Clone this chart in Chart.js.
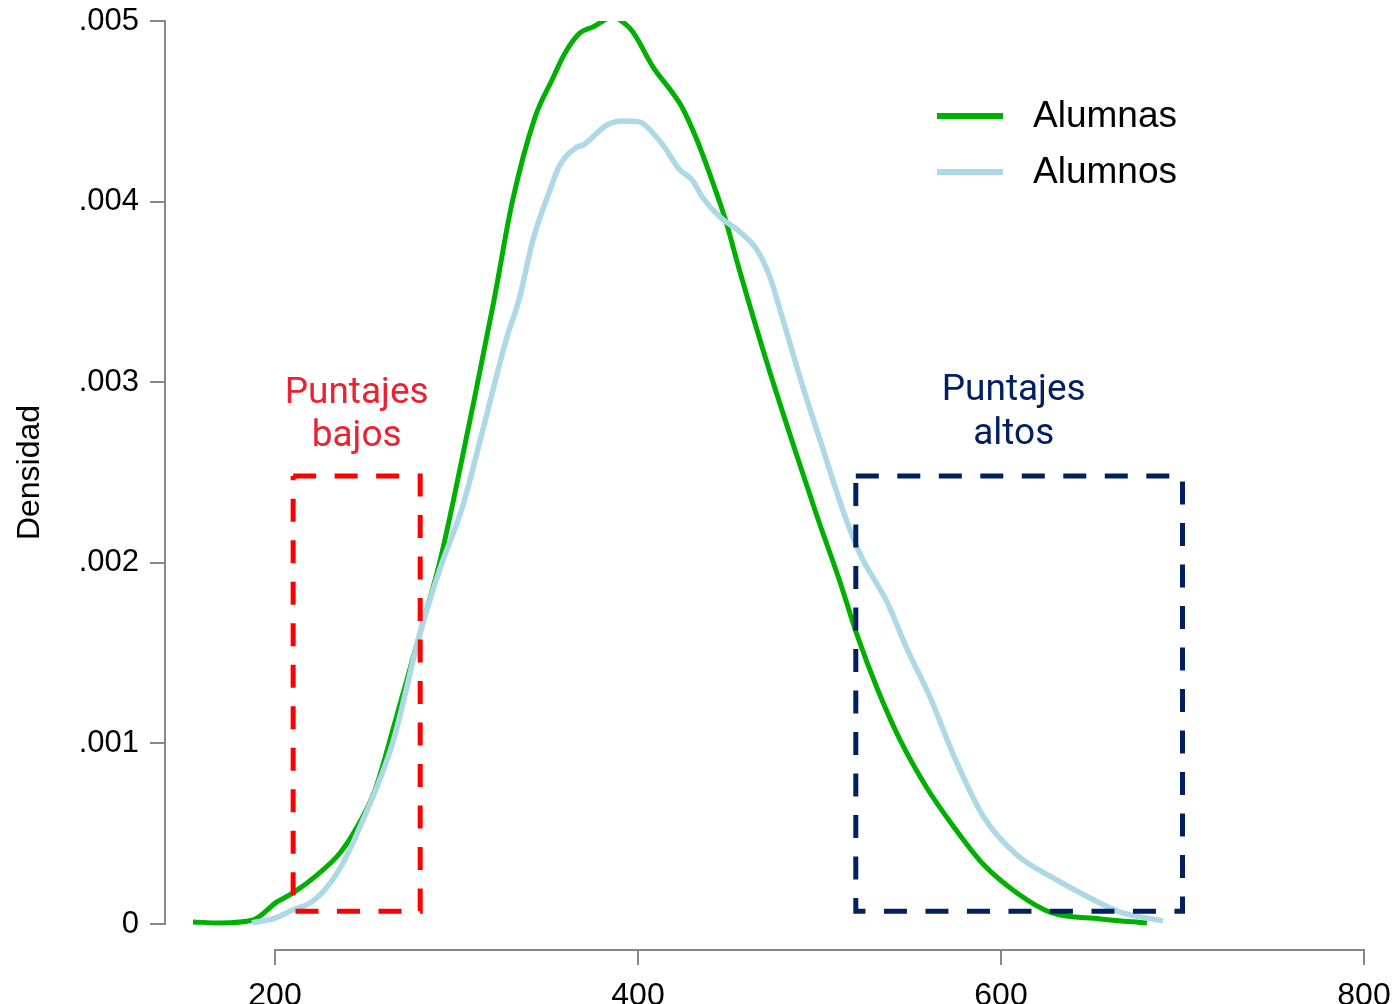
<!DOCTYPE html>
<html>
<head>
<meta charset="utf-8">
<script src="https://cdn.jsdelivr.net/npm/chart.js@4.4.1/dist/chart.umd.min.js"></script>
<style>
  html, body { margin: 0; padding: 0; background: #fff; }
  #wrap { width: 1393px; height: 1004px; }
</style>
</head>
<body>
<div id="wrap"><canvas id="densChart"></canvas></div>
<script>
// densidades (puntaje, densidad)
const alumnasX = [154.8, 169.7, 187.9, 201.1, 209.9, 223.1, 235.8, 245.2, 255.1, 266.1, 279.9, 290.9, 301.9, 309.6,
  320.7, 330.6, 343.3, 352.6, 359.8, 368.0, 375.2, 386.2, 391.7, 397.2, 408.3, 418.7, 424.2, 432.5, 441.3, 447.9,
  456.2, 471.1, 485.4, 498.6, 511.3, 520.7, 531.7, 544.4, 559.2, 573.6, 590.1, 608.8, 627.0, 654.5, 680.4];
const alumnasY = [0.000011, 0.000006, 0.000022, 0.000122, 0.000172, 0.000271, 0.000393, 0.000537, 0.000742, 0.001118,
  0.001611, 0.002010, 0.002519, 0.002896, 0.003455, 0.003992, 0.004468, 0.004673, 0.004823, 0.004934, 0.004967,
  0.005022, 0.004994, 0.004939, 0.004745, 0.004607, 0.004524, 0.004341, 0.004103, 0.003909, 0.003610, 0.003106,
  0.002658, 0.002259, 0.001894, 0.001600, 0.001307, 0.001019, 0.000753, 0.000543, 0.000332, 0.000172, 0.000066,
  0.000028, 0.000006];

const alumnosX = [187.3, 200.0, 209.9, 219.3, 228.7, 237.5, 246.8, 265.0, 279.9, 290.9, 303.6, 315.2, 327.8, 334.4,
  342.1, 351.5, 357.0, 366.4, 369.7, 382.9, 391.7, 401.1, 407.7, 413.8, 423.1, 429.8, 435.8, 445.2, 456.2, 465.6,
  472.7, 479.9, 490.9, 501.9, 513.0, 522.3, 537.2, 548.2, 560.9, 573.6, 590.1, 608.8, 628.7, 649.0, 665.6, 689.3];
const alumnosY = [0.000006, 0.000033, 0.000078, 0.000116, 0.000205, 0.000338, 0.000537, 0.001008, 0.001611, 0.001966,
  0.002320, 0.002763, 0.003250, 0.003455, 0.003787, 0.004064, 0.004203, 0.004302, 0.004313, 0.004424, 0.004446,
  0.004440, 0.004385, 0.004313, 0.004175, 0.004120, 0.004020, 0.003915, 0.003832, 0.003732, 0.003582, 0.003344,
  0.002973, 0.002630, 0.002287, 0.002049, 0.001783, 0.001523, 0.001257, 0.000941, 0.000598, 0.000382, 0.000255,
  0.000144, 0.000066, 0.000017];

const xTicks = [200, 400, 600, 800];
const yTicks = [0, 0.001, 0.002, 0.003, 0.004, 0.005];
const yTickLabels = ['0', '.001', '.002', '.003', '.004', '.005'];

// recuadros: [x desde, x hasta, y desde, y hasta]
const bajosBox = [210, 280, 0.00007, 0.00248];
const altosBox = [520, 700, 0.00007, 0.00248];

const GREEN = '#00b000';
const LIGHTBLUE = '#add8e6';
const RED = '#ff0000';
const NAVY = '#002060';

function points(xs, ys) {
  return xs.map((x, i) => ({x: x, y: ys[i]}));
}

function boxDataset(label, b, color) {
  return {
    label: label,
    data: [
      {x: b[0], y: b[3]}, {x: b[1], y: b[3]}, {x: b[1], y: b[2]},
      {x: b[0], y: b[2]}, {x: b[0], y: b[3]}
    ],
    borderColor: color,
    borderWidth: 5,
    borderDash: [23, 18.5],
    borderCapStyle: 'butt',
    pointRadius: 0,
    tension: 0,
    fill: false
  };
}

// quita el relleno que chart.js reserva para las etiquetas de los extremos
function noOverhang(s) {
  s.paddingTop = 0;
  s.paddingBottom = 0;
  s.paddingLeft = 0;
  s.paddingRight = 0;
}

const extras = {
  id: 'extras',
  afterDraw(chart) {
    const {ctx, chartArea, scales: {x, y}} = chart;
    ctx.save();

    // ejes al estilo Stata: solo entre el primer y el ultimo tick
    ctx.strokeStyle = '#888';
    ctx.lineWidth = 2;
    ctx.beginPath();
    ctx.moveTo(chartArea.left, y.getPixelForValue(yTicks[0]) + 1);
    ctx.lineTo(chartArea.left, y.getPixelForValue(yTicks[yTicks.length - 1]) - 1);
    ctx.moveTo(x.getPixelForValue(xTicks[0]) - 1, chartArea.bottom);
    ctx.lineTo(x.getPixelForValue(xTicks[xTicks.length - 1]) + 1, chartArea.bottom);
    ctx.stroke();

    // titulo del eje y
    const midY = (y.getPixelForValue(yTicks[0]) + y.getPixelForValue(yTicks[yTicks.length - 1])) / 2;
    ctx.save();
    ctx.translate(30, midY);
    ctx.rotate(-Math.PI / 2);
    ctx.fillStyle = '#000';
    ctx.font = '32px "Liberation Sans", Arial, sans-serif';
    ctx.textAlign = 'center';
    ctx.textBaseline = 'middle';
    ctx.fillText('Densidad', 0, 0);
    ctx.restore();

    // leyenda
    const items = ['Alumnas', 'Alumnos'];
    items.forEach((name, i) => {
      const ds = chart.data.datasets.find(d => d.label === name);
      const ly = 116 + i * 56;
      ctx.strokeStyle = ds.borderColor;
      ctx.lineWidth = 6;
      ctx.beginPath();
      ctx.moveTo(937, ly);
      ctx.lineTo(1003, ly);
      ctx.stroke();
      ctx.fillStyle = '#000';
      ctx.font = '37px "Liberation Sans", Arial, sans-serif';
      ctx.textAlign = 'left';
      ctx.textBaseline = 'middle';
      ctx.fillText(name, 1033, ly + 1);
    });

    // textos de los recuadros
    ctx.font = '37px Roboto, sans-serif';
    ctx.textAlign = 'center';
    ctx.textBaseline = 'alphabetic';
    ctx.fillStyle = '#ea2232';
    ctx.fillText('Puntajes', x.getPixelForValue(245), y.getPixelForValue(0.002885));
    ctx.fillText('bajos', x.getPixelForValue(245), y.getPixelForValue(0.002645));
    ctx.fillStyle = NAVY;
    ctx.fillText('Puntajes', x.getPixelForValue(607), y.getPixelForValue(0.0029));
    ctx.fillText('altos', x.getPixelForValue(607), y.getPixelForValue(0.00266));

    ctx.restore();
  }
};

const ctx = document.getElementById('densChart').getContext('2d');
new Chart(ctx, {
  type: 'line',
  data: {
    datasets: [
      boxDataset('bajos', bajosBox, RED),
      boxDataset('altos', altosBox, NAVY),
      {
        label: 'Alumnos',
        data: points(alumnosX, alumnosY),
        borderColor: LIGHTBLUE,
        borderWidth: 5.5,
        pointRadius: 0,
        cubicInterpolationMode: 'monotone',
        fill: false
      },
      {
        label: 'Alumnas',
        data: points(alumnasX, alumnasY),
        borderColor: GREEN,
        borderWidth: 5,
        pointRadius: 0,
        cubicInterpolationMode: 'monotone',
        fill: false
      }
    ]
  },
  options: {
    responsive: true,
    maintainAspectRatio: false,
    animation: false,
    layout: {padding: {top: 21, right: 29, bottom: 0, left: 0}},
    plugins: {
      legend: {display: false},
      tooltip: {enabled: false}
    },
    scales: {
      x: {
        type: 'linear',
        min: 139.4,
        max: 800,
        afterBuildTicks: s => { s.ticks = xTicks.map(v => ({value: v})); },
        afterFit: s => { s.height = 54; noOverhang(s); },
        border: {display: false},
        grid: {drawOnChartArea: false, tickLength: 15, color: '#888', lineWidth: 2},
        ticks: {
          color: '#000',
          padding: 12,
          maxRotation: 0,
          autoSkip: false,
          font: {family: '"Liberation Sans", Arial, sans-serif', size: 32},
          callback: v => String(v)
        }
      },
      y: {
        type: 'linear',
        min: -0.000144,
        max: 0.005,
        afterBuildTicks: s => { s.ticks = yTicks.map(v => ({value: v})); },
        afterFit: s => { s.width = 165; noOverhang(s); },
        border: {display: false},
        grid: {drawOnChartArea: false, tickLength: 15, color: '#888', lineWidth: 2},
        ticks: {
          color: '#000',
          padding: 11,
          autoSkip: false,
          font: {family: '"Liberation Sans", Arial, sans-serif', size: 31},
          callback: (v) => yTickLabels[yTicks.indexOf(v)] ?? ''
        }
      }
    }
  },
  plugins: [extras]
});
</script>
</body>
</html>
